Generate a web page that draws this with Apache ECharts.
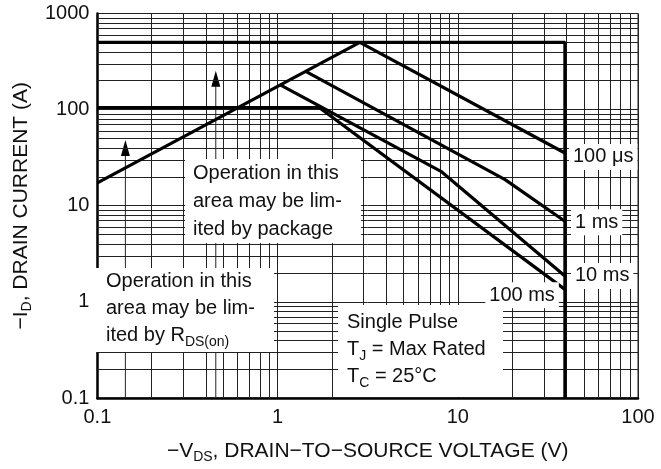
<!DOCTYPE html>
<html>
<head>
<meta charset="utf-8">
<script src="https://cdn.jsdelivr.net/npm/echarts@6/dist/echarts.min.js"></script>
<style>
  html, body { margin: 0; padding: 0; background: #fff; }
  #main { width: 661px; height: 469px; }
</style>
</head>
<body>
<div id="main"></div>
<script>
  // safe operating area, log-log
  var xDecades = [0.1, 1, 10];
  var yDecades = [0.1, 1, 10, 100];
  var minorSteps = [2, 3, 4, 5, 6, 7, 8, 9];

  var limitBox = [[0.1, 500], [39.3, 500], [39.3, 0.1]];
  var packageLimit = [[0.1, 105], [1.7, 105]];
  var rdsOnLimit = [[0.1, 17.3], [2.86, 500]];
  var pulse100us = [[2.86, 500], [39.3, 35.4]];
  var pulse1ms = [[1.44, 249], [18.3, 18.7], [39.3, 6.9]];
  var pulse10ms = [[1.04, 180], [8.06, 22.8], [39.3, 1.86]];
  var pulse100ms = [[1.7, 105], [39.3, 1.35]];
  var arrowX = [0.143, 0.454];
  var arrowTop = [40, 209];
  var pulseNames = ['100 μs', '1 ms', '10 ms', '100 ms'];

  var font = '"Liberation Sans", Arial, Helvetica, sans-serif';
  var ink = '#111';

  var gridLines = [];
  xDecades.forEach(function (d) {
    minorSteps.forEach(function (m) { gridLines.push({ xAxis: +(d * m).toPrecision(3) }); });
  });
  yDecades.forEach(function (d) {
    minorSteps.forEach(function (m) { gridLines.push({ yAxis: +(d * m).toPrecision(3) }); });
  });

  function arrow(x, top) {
    return {
      type: 'line',
      data: [
        { value: [x, 0.1], symbol: 'none' },
        { value: [x, top], symbol: 'triangle', symbolSize: [9, 16] }
      ],
      showSymbol: true,
      silent: true,
      z: 2,
      lineStyle: { color: '#222', width: 1 },
      itemStyle: { color: '#000' },
      animation: false
    };
  }

  function thick(name, data) {
    return {
      name: name,
      type: 'line',
      data: data,
      symbol: 'none',
      silent: true,
      z: 5,
      lineStyle: { color: '#000', width: 3.2 },
      animation: false
    };
  }

  function pulse(name, data, label) {
    var pts = data.slice(0, -1);
    var last = data[data.length - 1];
    pts.push({
      value: last,
      label: Object.assign({
        show: true,
        formatter: name,
        fontFamily: font,
        fontSize: 20,
        color: ink,
        backgroundColor: '#fff',
        padding: [3, 4]
      }, label)
    });
    return {
      name: name,
      type: 'line',
      data: pts,
      symbol: 'circle',
      symbolSize: 0.1,
      showSymbol: true,
      silent: true,
      z: 5,
      lineStyle: { color: '#000', width: 3.2 },
      itemStyle: { color: '#000' },
      animation: false
    };
  }

  var nameStyle = {
    fontFamily: font, fontSize: 21, color: ink, lineHeight: 26,
    rich: { sub: { fontFamily: font, fontSize: 14, lineHeight: 14, verticalAlign: 'bottom', color: ink } }
  };
  var subStyle = { font: '14px ' + font, lineHeight: 14, verticalAlign: 'bottom', fill: ink };

  var chart = echarts.init(document.getElementById('main'));
  chart.setOption({
    animation: false,
    grid: {
      left: 90, right: 23, top: 13.5, bottom: 70,
      show: true, borderColor: '#222', borderWidth: 1
    },
    xAxis: {
      type: 'log',
      logBase: 10,
      min: 0.1,
      max: 100,
      splitNumber: 3,
      name: '−V{sub|DS}, DRAIN−TO−SOURCE VOLTAGE (V)',
      nameLocation: 'middle',
      nameGap: 40,
      nameTextStyle: nameStyle,
      axisLine: { lineStyle: { color: '#000', width: 2.5 } },
      axisTick: { show: false },
      axisLabel: {
        fontFamily: font, fontSize: 20, color: ink, margin: 9,
        formatter: function (v) { return String(+v.toPrecision(3)); }
      },
      splitLine: { show: true, lineStyle: { color: '#222', width: 1 } }
    },
    yAxis: {
      type: 'log',
      logBase: 10,
      min: 0.1,
      max: 1000,
      splitNumber: 4,
      name: '−I{sub|D}, DRAIN CURRENT (A)',
      nameLocation: 'middle',
      nameRotate: 90,
      nameGap: 54,
      nameTextStyle: nameStyle,
      axisLine: { lineStyle: { color: '#000', width: 2.5 } },
      axisTick: { show: false },
      axisLabel: {
        fontFamily: font, fontSize: 20, color: ink, margin: 8,
        formatter: function (v) { return String(+v.toPrecision(3)); }
      },
      splitLine: { show: true, lineStyle: { color: '#222', width: 1 } }
    },
    series: [
      {
        name: 'grid',
        type: 'line',
        data: [],
        silent: true,
        z: 1,
        markLine: {
          silent: true,
          symbol: 'none',
          label: { show: false },
          lineStyle: { color: '#222', width: 1, type: 'solid' },
          emphasis: { disabled: true },
          animation: false,
          data: gridLines
        }
      },
      arrow(arrowX[0], arrowTop[0]),
      arrow(arrowX[1], arrowTop[1]),
      thick('limit', limitBox),
      thick('package', packageLimit),
      thick('rds', rdsOnLimit),
      pulse(pulseNames[0], pulse100us, { position: 'right', distance: 4, offset: [0, 4] }),
      pulse(pulseNames[1], pulse1ms, { position: 'right', distance: 6, offset: [0, 1] }),
      pulse(pulseNames[2], pulse10ms, { position: 'right', distance: 6, offset: [0, 0] }),
      pulse(pulseNames[3], pulse100ms, { position: 'left', distance: 6, offset: [0, 6] })
    ],
    graphic: [
      { type: 'rect', zlevel: 1, z: 50, shape: { x: 185, y: 159, width: 176, height: 84 }, style: { fill: '#fff' } },
      {
        type: 'text', zlevel: 1, z: 51, x: 193, y: 159,
        style: {
          text: 'Operation in this\narea may be lim-\nited by package',
          font: '20px ' + font, lineHeight: 28, fill: ink
        }
      },
      { type: 'rect', zlevel: 1, z: 50, shape: { x: 92, y: 268, width: 182, height: 84 }, style: { fill: '#fff' } },
      {
        type: 'text', zlevel: 1, z: 51, x: 106, y: 268,
        style: {
          text: 'Operation in this\narea may be lim-\nited by R{sub|DS(on)}',
          font: '20px ' + font, lineHeight: 27, fill: ink,
          rich: { sub: subStyle }
        }
      },
      { type: 'rect', zlevel: 1, z: 50, shape: { x: 338, y: 305, width: 165, height: 92 }, style: { fill: '#fff' } },
      {
        type: 'text', zlevel: 1, z: 51, x: 347, y: 309,
        style: {
          text: 'Single Pulse\nT{sub|J} = Max Rated\nT{sub|C} = 25°C',
          font: '20px ' + font, lineHeight: 27, fill: ink,
          rich: { sub: subStyle }
        }
      }
    ]
  });
</script>
</body>
</html>
